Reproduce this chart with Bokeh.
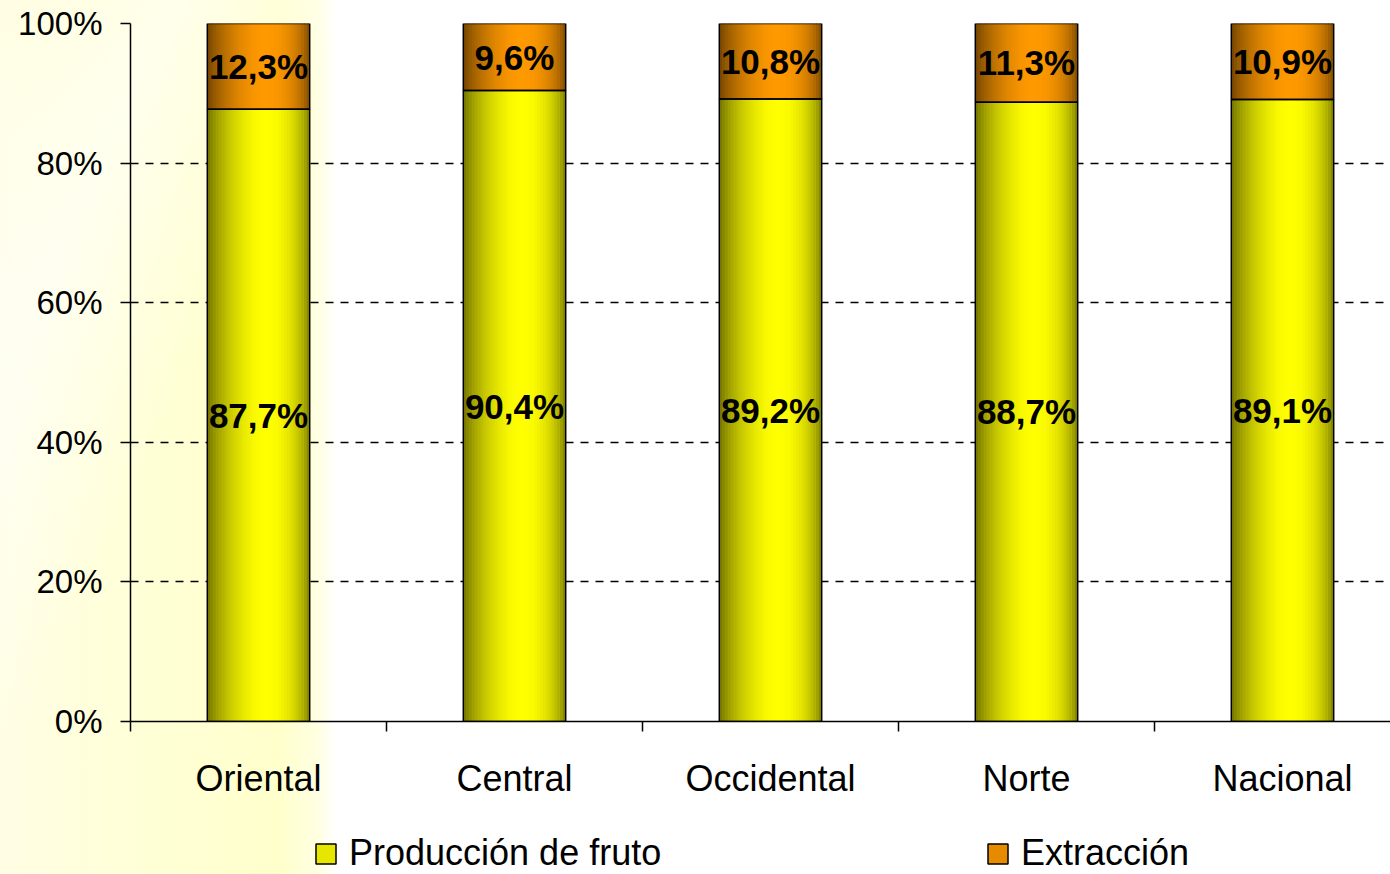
import math
from bokeh.plotting import figure
from bokeh.layouts import column
from bokeh.models import (ColumnDataSource, FixedTicker, PrintfTickFormatter,
                          Legend, LegendItem)
from bokeh.core.properties import value
from bokeh.embed import file_html
from bokeh.resources import INLINE

# Shares by region (percent)
regiones = ["Oriental", "Central", "Occidental", "Norte", "Nacional"]
produccion_fruto = [87.7, 90.4, 89.2, 88.7, 89.1]
extraccion = [12.3, 9.6, 10.8, 11.3, 10.9]
y_ticks = [0, 20, 40, 60, 80, 100]
series_names = ["Producción de fruto", "Extracción"]

BAR_W = 0.4
N_STRIPS = 36
YELLOW = (255, 255, 0)
ORANGE = (255, 153, 0)
FONT = "Liberation Sans"


def shade(base, t):
    # cylinder-like brightness across the bar width, peak slightly right of centre
    b = 0.44 + 0.56 * math.sin(math.pi * t ** 1.27) ** 0.6
    r, g, bl = (int(round(c * b)) for c in base)
    return "#%02x%02x%02x" % (r, g, bl)


x_pos = list(range(len(regiones)))

p = figure(width=1390, height=821, output_backend="svg", toolbar_location=None,
           x_range=(-0.5, -0.5 + 1260 / 256), y_range=(0, 100),
           min_border_left=130, min_border_right=0, min_border_top=23,
           min_border_bottom=100)
p.border_fill_color = None
p.background_fill_color = None
p.outline_line_color = None

# shaded strips for every stacked segment
strips = dict(left=[], right=[], bottom=[], top=[], color=[])
outline = dict(left=[], right=[], bottom=[], top=[])
for x, prod, ext in zip(x_pos, produccion_fruto, extraccion):
    segments = [(0, prod, YELLOW), (prod, prod + ext, ORANGE)]
    for bottom, top, base in segments:
        left0 = x - BAR_W / 2
        dw = BAR_W / N_STRIPS
        for k in range(N_STRIPS):
            t = (k + 0.5) / N_STRIPS
            strips["left"].append(left0 + k * dw)
            strips["right"].append(min(left0 + (k + 1.6) * dw, x + BAR_W / 2))
            strips["bottom"].append(bottom)
            strips["top"].append(top)
            strips["color"].append(shade(base, t))
        outline["left"].append(left0)
        outline["right"].append(x + BAR_W / 2)
        outline["bottom"].append(bottom)
        outline["top"].append(top)

p.quad(left="left", right="right", bottom="bottom", top="top",
       fill_color="color", line_color=None, source=ColumnDataSource(strips))
p.quad(left="left", right="right", bottom="bottom", top="top",
       fill_color=None, line_color="black", line_width=1.5,
       source=ColumnDataSource(outline))

# value labels centred in each segment
lab = dict(x=[], y=[], text=[])
for x, prod, ext in zip(x_pos, produccion_fruto, extraccion):
    lab["x"] += [x, x]
    lab["y"] += [prod / 2, prod + ext / 2]
    lab["text"] += [("%.1f%%" % prod).replace(".", ","),
                    ("%.1f%%" % ext).replace(".", ",")]
p.text(x="x", y="y", text="text", source=ColumnDataSource(lab),
       text_font=value(FONT), text_font_style="bold", text_font_size="35px",
       text_align="center", text_baseline="middle", text_color="black")

# axes
p.xaxis.ticker = FixedTicker(ticks=x_pos,
                             minor_ticks=[i - 0.5 for i in range(len(regiones) + 1)])
p.xaxis.major_label_overrides = {i: r for i, r in enumerate(regiones)}
p.xaxis.major_tick_out = 0
p.xaxis.major_tick_in = 0
p.xaxis.minor_tick_out = 10
p.xaxis.minor_tick_in = 0
p.xaxis.minor_tick_line_color = "black"
p.xaxis.minor_tick_line_width = 1.5
p.xaxis.major_label_standoff = 26
p.xaxis.major_label_text_font_size = "36px"

p.yaxis.ticker = FixedTicker(ticks=y_ticks)
p.yaxis.formatter = PrintfTickFormatter(format="%d%%")
p.yaxis.minor_tick_line_color = None
p.yaxis.major_tick_out = 10
p.yaxis.major_tick_in = 0
p.yaxis.major_label_standoff = 18
p.yaxis.major_label_text_font_size = "33px"

for ax in (p.xaxis, p.yaxis):
    ax.axis_line_color = "black"
    ax.axis_line_width = 1.5
    ax.major_tick_line_color = "black"
    ax.major_tick_line_width = 1.5
    ax.major_label_text_font = FONT
    ax.major_label_text_color = "black"

p.xgrid.grid_line_color = None
p.ygrid.ticker = FixedTicker(ticks=y_ticks[1:])
p.ygrid.grid_line_color = "black"
p.ygrid.grid_line_dash = "8 7"
p.ygrid.grid_line_width = 1.5

# legend strip underneath the chart
leg = figure(width=1390, height=53, output_backend="svg", toolbar_location=None,
             x_range=(0, 1), y_range=(0, 1), min_border=0)
leg.border_fill_color = None
leg.background_fill_color = None
leg.outline_line_color = None
leg.axis.visible = False
leg.grid.grid_line_color = None
r_prod = leg.quad(left=[0], right=[0], bottom=[0], top=[0], fill_color="#e6e600",
                  line_color="black", line_width=1.5)
r_ext = leg.quad(left=[0], right=[0], bottom=[0], top=[0], fill_color="#e68a00",
                 line_color="black", line_width=1.5)
legend = Legend(items=[LegendItem(label=series_names[0], renderers=[r_prod]),
                       LegendItem(label=series_names[1], renderers=[r_ext])],
                orientation="horizontal", location=(183, 0),
                glyph_width=25, glyph_height=25, label_standoff=11,
                label_width=620, spacing=16, padding=0, margin=0,
                border_line_color=None, background_fill_alpha=0,
                label_text_font=FONT, label_text_font_size="36px",
                label_text_color="black")
leg.add_layout(legend, "center")

page = column(p, leg, spacing=0)
page.styles = {"background":
               "linear-gradient(115deg, rgba(255,255,255,0) 0px, "
               "rgba(255,255,255,0.55) 160px, rgba(255,255,255,0) 330px), "
               "linear-gradient(90deg, #fffee4 0px, #ffffd6 150px, "
               "#ffffcc 280px, #ffffe2 318px, #ffffff 336px)"}

open("out.html", "w").write(file_html(page, INLINE))
